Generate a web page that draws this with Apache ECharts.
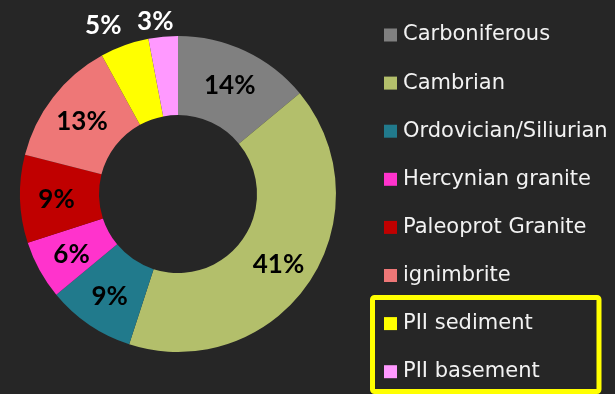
<!DOCTYPE html>
<html>
<head>
<meta charset="utf-8">
<script src="https://cdn.jsdelivr.net/npm/echarts@6/dist/echarts.min.js"></script>
<style>
  html, body { margin: 0; padding: 0; background: #262626; }
  #chart { width: 615px; height: 394px; }
</style>
</head>
<body>
<div id="chart"></div>
<script>
// Share of each source unit (percent)
const categories = ['Carboniferous', 'Cambrian', 'Ordovician/Siliurian', 'Hercynian granite',
  'Paleoprot Granite', 'ignimbrite', 'PII sediment', 'PII basement'];
const shares = [14, 41, 9, 6, 9, 13, 5, 3];
const colors = ['#808080', '#b3bf6b', '#217a8c', '#ff33cc', '#c00000', '#ee7777', '#ffff00', '#ff99ff'];
// Slices whose percentage sits outside the ring, in white
const outsideLabels = ['PII sediment', 'PII basement'];

const center = [178, 194];
const labelFont = 'Lato, "Noto Sans", sans-serif';
const legendFont = '"DejaVu Sans", sans-serif';

const ringData = categories.map((name, i) => ({
  name,
  value: shares[i],
  itemStyle: { color: colors[i] },
  label: { show: !outsideLabels.includes(name) }
}));

const outerLabelData = categories.map((name, i) => ({
  name,
  value: shares[i],
  label: { show: outsideLabels.includes(name) }
}));

// small nudges so the two outer labels sit side by side above the ring
const outerNudge = { 'PII sediment': { dx: -11, dy: 8 }, 'PII basement': { dx: -5, dy: 15 } };

const chart = echarts.init(document.getElementById('chart'));
chart.setOption({
  backgroundColor: '#262626',
  animation: false,
  legend: {
    orient: 'vertical',
    left: 384,
    top: 24,
    padding: 0,
    itemWidth: 13,
    itemHeight: 13,
    itemGap: 26.1,
    icon: 'rect',
    selectedMode: false,
    data: categories.map((name, i) => ({ name, itemStyle: { color: colors[i] } })),
    textStyle: { color: '#f2f2f2', fontFamily: legendFont, fontSize: 21, lineHeight: 22, padding: [0, 0, 0, 1] }
  },
  series: [
    {
      type: 'pie',
      center,
      radius: [79, 158],
      startAngle: 90,
      clockwise: true,
      silent: true,
      avoidLabelOverlap: false,
      itemStyle: { borderWidth: 0 },
      label: {
        position: 'inside',
        formatter: p => p.value + '%',
        color: '#000000',
        fontFamily: labelFont,
        fontWeight: 'bold',
        fontSize: 26
      },
      labelLayout: { dy: 2 },
      labelLine: { show: false },
      data: ringData
    },
    {
      // transparent outer band that only carries the small-slice labels
      type: 'pie',
      center,
      radius: [158, 212],
      startAngle: 90,
      clockwise: true,
      silent: true,
      avoidLabelOverlap: false,
      legendHoverLink: false,
      itemStyle: { color: 'rgba(0,0,0,0)', borderWidth: 0 },
      label: {
        position: 'inside',
        formatter: p => p.value + '%',
        color: '#ffffff',
        fontFamily: labelFont,
        fontWeight: 'bold',
        fontSize: 26
      },
      labelLayout: p => outerNudge[categories[p.dataIndex]] || {},
      labelLine: { show: false },
      data: outerLabelData
    }
  ],
  graphic: [
    {
      type: 'rect',
      shape: { x: 372.5, y: 297.5, width: 226.5, height: 94, r: 2 },
      style: { fill: 'none', stroke: '#ffff00', lineWidth: 5 },
      silent: true
    }
  ]
});
</script>
</body>
</html>
